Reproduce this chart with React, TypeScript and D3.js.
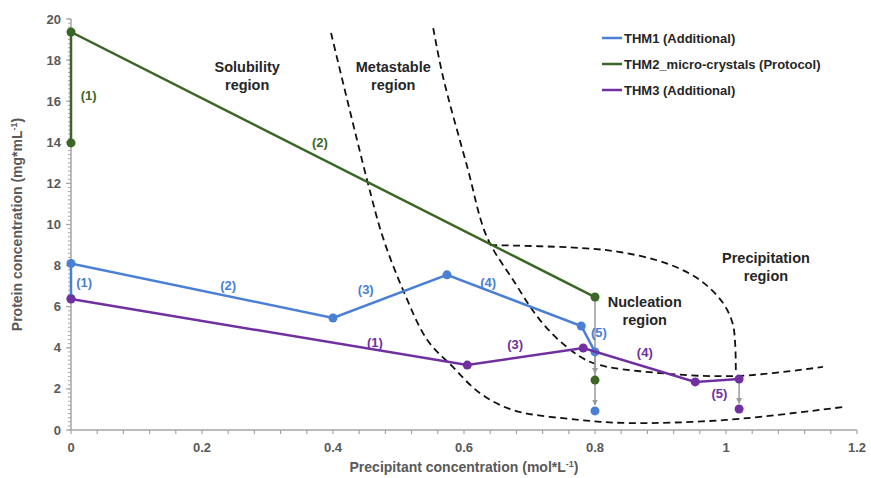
import React, { useEffect } from 'react';
import * as d3 from 'd3';

// series: [precipitant mol/L, protein mg/mL]
const thm1 = [[0, 6.4], [0, 8.1], [0.4, 5.45], [0.574, 7.55], [0.779, 5.06], [0.8, 3.8]];
const thm1Extra = [[0.8, 0.93]];
const thm2 = [[0, 13.97], [0, 19.37], [0.8, 6.47]];
const thm2Extra = [[0.8, 2.43]];
const thm3 = [[0, 6.37], [0.605, 3.16], [0.782, 3.99], [0.953, 2.34], [1.02, 2.48]];
const thm3Extra = [[1.02, 1.02]];

// grey arrows (from, to)
const arrows = [
  [[0.8, 6.47], [0.8, 2.75]],
  [[0.8, 3.8], [0.8, 1.22]],
  [[1.02, 2.48], [1.02, 1.3]],
];

// hand-drawn region boundaries
const curveSolubility = [
  [0.397, 19.32], [0.452, 12.17], [0.476, 9.39], [0.507, 6.81], [0.544, 4.38], [0.583, 3.07],
  [0.624, 1.8], [0.675, 0.97], [0.777, 0.49], [0.849, 0.34], [1.0, 0.49], [1.179, 1.12],
];
const curveMetastable = [
  [0.553, 19.56], [0.568, 17.18], [0.605, 12.8], [0.635, 9.39], [0.675, 7.3], [0.716, 5.35],
  [0.757, 4.04], [0.797, 3.26], [0.899, 2.77], [1.017, 2.63], [1.148, 3.07],
];
const curvePrecip = [
  [0.64, 9.0], [0.777, 8.86], [0.84, 8.65], [0.91, 8.1], [0.96, 7.3], [0.995, 6.2],
  [1.01, 5.2], [1.014, 4.2], [1.015, 2.7],
];

const xTicks = [0, 0.2, 0.4, 0.6, 0.8, 1, 1.2];
const yTicks = [0, 2, 4, 6, 8, 10, 12, 14, 16, 18, 20];

const segLabels = [
  { t: '(1)', x: 0.027, y: 16.3, c: 'green' },
  { t: '(2)', x: 0.38, y: 14.0, c: 'green' },
  { t: '(1)', x: 0.02, y: 7.2, c: 'blue' },
  { t: '(2)', x: 0.24, y: 7.05, c: 'blue' },
  { t: '(3)', x: 0.45, y: 6.86, c: 'blue' },
  { t: '(4)', x: 0.637, y: 7.2, c: 'blue' },
  { t: '(5)', x: 0.806, y: 4.77, c: 'blue' },
  { t: '(1)', x: 0.464, y: 4.28, c: 'purple' },
  { t: '(3)', x: 0.678, y: 4.18, c: 'purple' },
  { t: '(4)', x: 0.876, y: 3.75, c: 'purple' },
  { t: '(5)', x: 0.99, y: 1.8, c: 'purple' },
];

const regionLabels = [
  { lines: ['Solubility', 'region'], x: 0.269, y: 17.66 },
  { lines: ['Metastable', 'region'], x: 0.492, y: 17.66 },
  { lines: ['Nucleation', 'region'], x: 0.876, y: 6.23 },
  { lines: ['Precipitation', 'region'], x: 1.061, y: 8.37 },
];

const colors: Record<string, string> = { blue: '#4a7fd6', green: '#3b6626', purple: '#7030a0' };
const legendItems = [
  { name: 'THM1 (Additional)', c: 'blue' },
  { name: 'THM2_micro-crystals (Protocol)', c: 'green' },
  { name: 'THM3 (Additional)', c: 'purple' },
];

const W = 871;
const H = 478;
const FONT = '"Liberation Sans", Arial, sans-serif';

const App = () => {
  useEffect(() => {
    document.body.style.margin = '0';
  }, []);

  const x = d3.scaleLinear().domain([0, 1.2]).range([71, 857]);
  const y = d3.scaleLinear().domain([0, 20]).range([430, 19]);
  const line = d3.line<number[]>().x(d => x(d[0])).y(d => y(d[1]));
  const curve = d3.line<number[]>().x(d => x(d[0])).y(d => y(d[1])).curve(d3.curveCatmullRom);

  const xMinor = d3.range(0, 1.2001, 0.04);
  const yMinor = d3.range(0, 20.001, 0.2);
  const axisColor = '#a6a6a6';
  const tickText = '#595959';

  const series = [
    { pts: thm1, extra: thm1Extra, c: 'blue' },
    { pts: thm2, extra: thm2Extra, c: 'green' },
    { pts: thm3, extra: thm3Extra, c: 'purple' },
  ];

  return (
    <svg width={W} height={H} style={{ display: 'block', background: '#fff' }} fontFamily={FONT}>
      <defs>
        <marker id="arr" viewBox="0 0 10 10" refX="9" refY="5" markerWidth="4" markerHeight="4" orient="auto">
          <path d="M0,0 L10,5 L0,10 z" fill="#9a9a9a" />
        </marker>
      </defs>

      {/* dashed region boundaries */}
      {[curveSolubility, curveMetastable, curvePrecip].map((c, i) => (
        <path key={i} d={curve(c) || ''} fill="none" stroke="#111" strokeWidth={1.8} strokeDasharray="7,4.5" />
      ))}

      {/* grey arrows */}
      {arrows.map((a, i) => (
        <line key={i} x1={x(a[0][0])} y1={y(a[0][1])} x2={x(a[1][0])} y2={y(a[1][1])}
          stroke="#9a9a9a" strokeWidth={1.5} markerEnd="url(#arr)" />
      ))}

      {/* axes */}
      <line x1={x(0)} x2={x(1.2)} y1={y(0)} y2={y(0)} stroke={axisColor} strokeWidth={1.5} />
      <line x1={x(0)} x2={x(0)} y1={y(0)} y2={y(20)} stroke={axisColor} strokeWidth={1.5} />
      {xMinor.map((v, i) => (
        <line key={'xm' + i} x1={x(v)} x2={x(v)} y1={y(0)} y2={y(0) + 4} stroke={axisColor} strokeWidth={1.2} />
      ))}
      {yMinor.map((v, i) => (
        <line key={'ym' + i} x1={x(0) - 3} x2={x(0)} y1={y(v)} y2={y(v)} stroke={axisColor} strokeWidth={1} />
      ))}
      {yTicks.map(v => (
        <g key={'yt' + v}>
          <line x1={x(0) - 5} x2={x(0)} y1={y(v)} y2={y(v)} stroke={axisColor} strokeWidth={1.2} />
          <text x={x(0) - 10} y={y(v)} dy="0.35em" textAnchor="end" fontSize={13} fontWeight="bold" fill={tickText}>{v}</text>
        </g>
      ))}
      {xTicks.map(v => (
        <text key={'xt' + v} x={x(v)} y={y(0) + 22} textAnchor="middle" fontSize={13} fontWeight="bold" fill={tickText}>{v}</text>
      ))}
      <text x={x(0.6)} y={472} textAnchor="middle" fontSize={14} fontWeight="bold" fill={tickText}>
        Precipitant concentration (mol*L<tspan dy={-5} fontSize={9}>-1</tspan><tspan dy={5}>)</tspan>
      </text>
      <text transform={`translate(22,${y(10)}) rotate(-90)`} textAnchor="middle" fontSize={14} fontWeight="bold" fill={tickText}>
        Protein concentration (mg*mL<tspan dy={-5} fontSize={9}>-1</tspan><tspan dy={5}>)</tspan>
      </text>

      {/* series */}
      {series.map(s => (
        <g key={s.c}>
          <path d={line(s.pts) || ''} fill="none" stroke={colors[s.c]} strokeWidth={2.5} />
          {s.pts.concat(s.extra).map((p, i) => (
            <circle key={i} cx={x(p[0])} cy={y(p[1])} r={4.5} fill={colors[s.c]} />
          ))}
        </g>
      ))}

      {/* segment labels */}
      {segLabels.map((l, i) => (
        <text key={'sl' + i} x={x(l.x)} y={y(l.y)} dy="0.35em" textAnchor="middle" fontSize={13} fontWeight="bold" fill={colors[l.c]}>{l.t}</text>
      ))}

      {/* region labels */}
      {regionLabels.map((r, i) => (
        <text key={'rl' + i} x={x(r.x)} y={y(r.y)} textAnchor="middle" fontSize={14.5} fontWeight="bold" fill="#262626">
          {r.lines.map((t, j) => (
            <tspan key={j} x={x(r.x)} dy={j === 0 ? '0.35em' : 18}>{t}</tspan>
          ))}
        </text>
      ))}

      {/* legend */}
      {legendItems.map((l, i) => (
        <g key={l.name} transform={`translate(602,${38 + i * 26})`}>
          <line x1={0} x2={20} y1={0} y2={0} stroke={colors[l.c]} strokeWidth={2.5} />
          <text x={22} y={0} dy="0.35em" fontSize={13} fontWeight="bold" fill="#262626">{l.name}</text>
        </g>
      ))}
    </svg>
  );
};

export default App;
